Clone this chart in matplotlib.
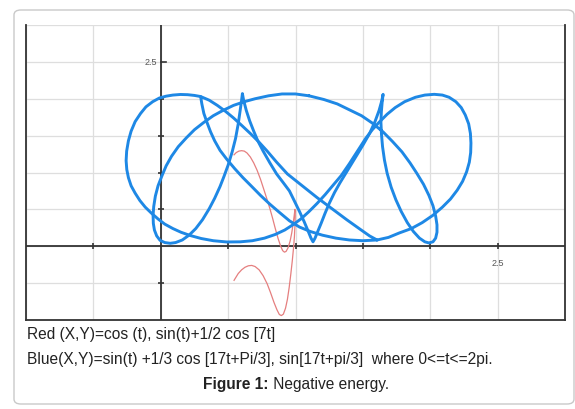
import matplotlib
matplotlib.use("Agg")
import matplotlib.pyplot as plt
from matplotlib.patches import FancyBboxPatch

# blue curve - big top arc, the small loop at the origin,
# the two spikes and the bottom turn at the right
blue_x1 = [1.10, 1.00, 0.90, 0.80, 0.70, 0.62, 0.54, 0.46, 0.39, 0.32, 0.25, 0.19, 0.13, 0.08,
           0.04, 0.01, -0.02, -0.04, -0.052, -0.057, -0.055, -0.047, -0.03, -0.005, 0.03, 0.07,
           0.11, 0.16, 0.21, 0.26, 0.31, 0.36, 0.40, 0.44, 0.47, 0.50, 0.53, 0.555, 0.575, 0.59,
           0.60, 0.606, 0.615, 0.635, 0.66, 0.69, 0.72, 0.76, 0.81, 0.86, 0.91, 0.955, 0.99, 1.03,
           1.065, 1.095, 1.115, 1.13, 1.145, 1.165, 1.19, 1.22, 1.25, 1.29, 1.33, 1.38, 1.44, 1.50,
           1.55, 1.59, 1.62, 1.64, 1.65, 1.643, 1.637, 1.634, 1.638, 1.646, 1.66, 1.68, 1.71, 1.745,
           1.785, 1.83, 1.875, 1.92, 1.96, 1.99, 2.02, 2.04, 2.05, 2.05, 2.04, 2.02, 1.99, 1.95,
           1.90, 1.85, 1.79, 1.72, 1.65, 1.57, 1.49, 1.40, 1.31, 1.21, 1.10]
blue_y1 = [2.04, 2.065, 2.065, 2.04, 2.00, 1.96, 1.91, 1.84, 1.77, 1.68, 1.58, 1.47, 1.35, 1.22,
           1.09, 0.96, 0.82, 0.68, 0.54, 0.42, 0.31, 0.22, 0.14, 0.08, 0.05, 0.04,
           0.05, 0.085, 0.15, 0.24, 0.36, 0.51, 0.65, 0.81, 0.95, 1.10, 1.28, 1.46, 1.66, 1.85,
           1.98, 2.07, 1.98, 1.84, 1.70, 1.56, 1.43, 1.29, 1.13, 0.98, 0.86, 0.75, 0.62, 0.47,
           0.33, 0.20, 0.11, 0.06, 0.11, 0.20, 0.31, 0.45, 0.58, 0.73, 0.86, 1.01, 1.19, 1.37,
           1.53, 1.69, 1.84, 1.97, 2.06, 1.95, 1.82, 1.68, 1.52, 1.35, 1.17, 0.99, 0.80, 0.63,
           0.47, 0.32, 0.20, 0.11, 0.06, 0.045, 0.06, 0.11, 0.19, 0.29, 0.41, 0.55, 0.69, 0.84,
           0.99, 1.13, 1.28, 1.42, 1.55, 1.67, 1.77, 1.85, 1.93, 1.99, 2.04]

# blue curve, second part - left lobe, long crossing, right lobe down to the cusp
blue_x2 = [0.296, 0.25, 0.20, 0.146, 0.09, 0.04, -0.01, -0.06, -0.11, -0.15, -0.19, -0.22,
           -0.24, -0.253, -0.257, -0.252, -0.24, -0.22, -0.19, -0.155, -0.115, -0.07, -0.02,
           0.03, 0.09, 0.15, 0.22, 0.30, 0.39, 0.49, 0.59, 0.68, 0.77, 0.85, 0.92, 0.98, 1.04,
           1.10, 1.16, 1.22, 1.28, 1.34, 1.40, 1.46, 1.52, 1.57, 1.62, 1.68, 1.74, 1.81, 1.89,
           1.96, 2.03, 2.09, 2.14, 2.19, 2.23, 2.26, 2.285, 2.298, 2.302, 2.30, 2.29, 2.27, 2.24,
           2.20, 2.15, 2.09, 2.02, 1.94, 1.86, 1.77, 1.69, 1.605]
blue_y2 = [2.03, 2.045, 2.055, 2.058, 2.05, 2.035, 2.01, 1.96, 1.89, 1.80, 1.69, 1.56,
           1.43, 1.29, 1.16, 1.04, 0.93, 0.82, 0.72, 0.62, 0.53, 0.45, 0.37,
           0.30, 0.24, 0.19, 0.145, 0.105, 0.075, 0.058, 0.06, 0.075, 0.11, 0.16, 0.22, 0.29, 0.37,
           0.47, 0.58, 0.70, 0.83, 0.96, 1.12, 1.29, 1.46, 1.58, 1.68, 1.79, 1.88, 1.96, 2.02,
           2.05, 2.06, 2.05, 2.02, 1.96, 1.88, 1.78, 1.66, 1.53, 1.40, 1.27, 1.14, 1.01, 0.88,
           0.76, 0.64, 0.53, 0.42, 0.32, 0.24, 0.18, 0.12, 0.085]

# the two thin strokes between the top cusp of the left lobe and the bottom cusp
blue_x3 = [1.605, 1.55, 1.48, 1.38, 1.27, 1.16, 1.05, 0.94, 0.86, 0.79, 0.73, 0.67, 0.60, 0.54,
           0.48, 0.42, 0.36, 0.296, 0.305, 0.32, 0.345, 0.37, 0.40, 0.44, 0.49, 0.55, 0.61, 0.67,
           0.74, 0.81, 0.88, 0.955, 1.03, 1.11, 1.20, 1.30, 1.40, 1.50, 1.605]
blue_y3 = [0.085, 0.14, 0.23, 0.36, 0.51, 0.66, 0.82, 0.98, 1.14, 1.29, 1.41, 1.52, 1.64, 1.74,
           1.83, 1.91, 1.98, 2.03, 1.93, 1.80, 1.67, 1.55, 1.43, 1.30, 1.18, 1.05, 0.93, 0.82,
           0.69, 0.57, 0.46, 0.345, 0.26, 0.20, 0.15, 0.11, 0.085, 0.075, 0.085]

# red curve
red_x = [0.544, 0.56, 0.58, 0.60, 0.62, 0.64, 0.665, 0.69, 0.715, 0.74, 0.765, 0.788, 0.81, 0.83,
         0.85, 0.87, 0.89, 0.905, 0.918, 0.93, 0.945, 0.96, 0.972, 0.982, 0.99, 0.996, 0.998,
         0.996, 0.992, 0.985, 0.976, 0.965, 0.953, 0.94, 0.926, 0.91, 0.895, 0.88, 0.862, 0.84,
         0.815, 0.79, 0.76, 0.73, 0.70, 0.675, 0.65, 0.625, 0.60, 0.575, 0.544]
red_y = [1.24, 1.27, 1.29, 1.296, 1.29, 1.265, 1.21, 1.13, 1.03, 0.91, 0.77, 0.64, 0.51, 0.38,
         0.24, 0.11, 0.0, -0.06, -0.08, -0.07, -0.02, 0.07, 0.18, 0.30, 0.41, 0.50, 0.42,
         0.28, 0.13, -0.03, -0.20, -0.38, -0.56, -0.72, -0.84, -0.92, -0.94, -0.925, -0.86, -0.76,
         -0.63, -0.51, -0.40, -0.32, -0.275, -0.26, -0.265, -0.285, -0.32, -0.37, -0.462]

grid_ticks = [-1, -0.5, 0, 0.5, 1, 1.5, 2, 2.5, 3]
x_axis_ticks = [-0.5, 0.5, 1, 1.5, 2, 2.5]
y_axis_ticks = [-0.5, 0.5, 1, 1.5, 2]

plt.rcParams['font.family'] = ['Liberation Sans', 'DejaVu Sans']

fig = plt.figure(figsize=(5.75, 4.1), dpi=100)

# outer rounded frame
frame = FancyBboxPatch((14 / 575, 5 / 410), 560 / 575, 394 / 410,
                       boxstyle="round,pad=0,rounding_size=0.012",
                       transform=fig.transFigure, fill=False,
                       edgecolor='#c9c9c9', linewidth=1.0)
fig.patches.append(frame)

ax = fig.add_axes([26 / 575, 1 - 321 / 410, 539 / 575, 295 / 410])
ax.set_xlim(-1, 3)
ax.set_ylim(-1, 3)
ax.set_xticks(grid_ticks)
ax.set_yticks(grid_ticks)
ax.tick_params(length=0, labelbottom=False, labelleft=False)
ax.grid(True, color='#dedede', linewidth=0.9)
ax.set_axisbelow(True)
for side in ['left', 'right', 'bottom']:
    ax.spines[side].set_color('#333333')
    ax.spines[side].set_linewidth(1.3)
ax.spines['top'].set_visible(False)

# axes through the origin
ax.axhline(0, color='#333333', linewidth=1.3, zorder=2)
ax.axvline(0, color='#333333', linewidth=1.3, zorder=2)
ax.plot(x_axis_ticks, [0] * len(x_axis_ticks), ls='', marker='|', ms=4, mew=1.2, color='#333333', zorder=2)
ax.plot([0] * len(y_axis_ticks), y_axis_ticks, ls='', marker='_', ms=4, mew=1.2, color='#333333', zorder=2)
ax.plot([0.0, 0.04], [2.5, 2.5], color='#333333', linewidth=1.2, zorder=2)
ax.annotate('2.5', (0, 2.5), xytext=(-3, 0), textcoords='offset points',
            ha='right', va='center', fontsize=6.5, color='#555555')
ax.annotate('2.5', (2.5, 0), xytext=(0, -12), textcoords='offset points',
            ha='center', va='center', fontsize=6.5, color='#555555')

ax.plot(red_x, red_y, color='#e57f7f', linewidth=0.9, zorder=3)
for bx, by in [(blue_x1, blue_y1), (blue_x2, blue_y2), (blue_x3, blue_y3)]:
    ax.plot(bx, by, color='#1e88e5', linewidth=2.1, zorder=4,
            solid_joinstyle='round', solid_capstyle='round')

# caption
fs = 11.2
fig.text(27 / 575, 1 - 335 / 410, 'Red (X,Y)=cos (t), sin(t)+1/2 cos [7t]',
         fontsize=fs, color='#222222', va='center')
fig.text(27 / 575, 1 - 360 / 410,
         'Blue(X,Y)=sin(t) +1/3 cos [17t+Pi/3], sin[17t+pi/3]  where 0<=t<=2pi.',
         fontsize=fs, color='#222222', va='center')
t1 = fig.text(0, 1 - 385 / 410, 'Figure 1:', fontsize=fs, fontweight='bold', color='#222222', va='center')
t2 = fig.text(0, 1 - 385 / 410, ' Negative energy.', fontsize=fs, color='#222222', va='center')
fig.canvas.draw()
r = fig.canvas.get_renderer()
w1 = t1.get_window_extent(r).width
w2 = t2.get_window_extent(r).width
x0 = 296 - (w1 + w2) / 2
t1.set_x(x0 / 575)
t2.set_x((x0 + w1) / 575)

fig.savefig('out.png', dpi=100)
